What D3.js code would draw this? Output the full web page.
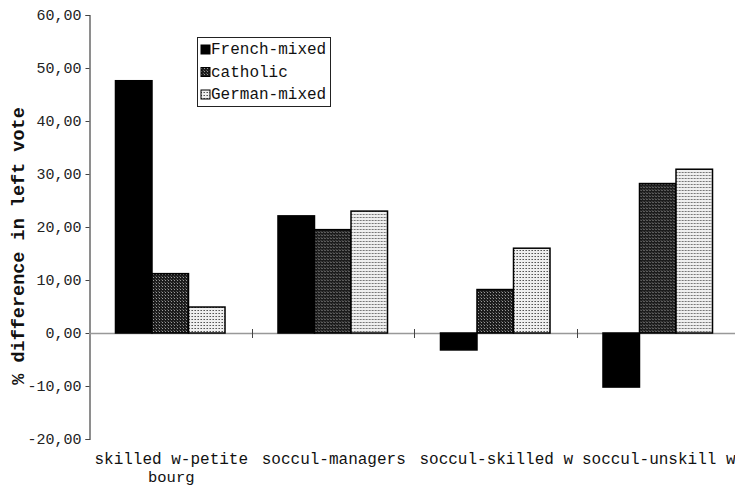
<!DOCTYPE html>
<html><head><meta charset="utf-8">
<script src="https://cdn.jsdelivr.net/npm/d3@7"></script>
<style>
body{margin:0;background:#fff;}
text{font-family:"Liberation Mono","Courier New",monospace;fill:#111;}
</style></head>
<body><svg id="c" width="735" height="486"></svg>
<script>
const categories = ["skilled w-petite bourg","soccul-managers","soccul-skilled w","soccul-unskill w"];
const categoryLines = [["skilled w-petite","bourg"],["soccul-managers"],["soccul-skilled w"],["soccul-unskill w"]];
const series = ["French-mixed","catholic","German-mixed"];
const frenchMixed = [47.6, 22.1, -3.2, -10.2];
const catholic = [11.2, 19.5, 8.2, 28.2];
const germanMixed = [4.9, 23.0, 16.0, 30.9];
const yTicks = [-20,-10,0,10,20,30,40,50,60];
const yTickLabels = ["-20,00","-10,00","0,00","10,00","20,00","30,00","40,00","50,00","60,00"];
const yTitle = "% difference in left vote";
const values = [frenchMixed, catholic, germanMixed];

const svg = d3.select("#c");
const defs = svg.append("defs");
// dark dither
const p1 = defs.append("pattern").attr("id","pCath").attr("patternUnits","userSpaceOnUse").attr("width",3).attr("height",3);
p1.append("rect").attr("width",3).attr("height",3).attr("fill","#1c1c1c");
p1.append("rect").attr("x",1).attr("y",1).attr("width",1).attr("height",1).attr("fill","#9a9a9a");
p1.append("rect").attr("x",0).attr("y",0).attr("width",1).attr("height",1).attr("fill","#555");
// light dither
const p2 = defs.append("pattern").attr("id","pGer").attr("patternUnits","userSpaceOnUse").attr("width",3).attr("height",3);
p2.append("rect").attr("width",3).attr("height",3).attr("fill","#efefef");
p2.append("rect").attr("x",1).attr("y",1).attr("width",1).attr("height",1).attr("fill","#555");
p2.append("rect").attr("x",0).attr("y",1).attr("width",1).attr("height",1).attr("fill","#999");
const fills = ["#000","url(#pCath)","url(#pGer)"];

const x = d3.scaleBand().domain(categories).range([89, 739]).padding(0);
const bw = x.bandwidth();
const xs = d3.scaleBand().domain(series).range([bw*0.163, bw*0.837]).padding(0);
const y = d3.scaleLinear().domain([-20,60]).range([439,15]);

// y axis
const yAxis = d3.axisLeft(y).tickValues(yTicks).tickSize(4).tickFormat((d,i)=>yTickLabels[i]);
const ga = svg.append("g").attr("transform","translate(89.5,0)").call(yAxis);
ga.select(".domain").attr("stroke","#444").attr("stroke-width",1.2);
ga.selectAll(".tick line").attr("stroke","#444");
ga.selectAll(".tick text").attr("font-size",15).attr("x",-8).attr("dy","0.32em").style("fill","#222");

// zero line with category ticks
svg.append("line").attr("x1",89).attr("x2",735).attr("y1",y(0)+0.5).attr("y2",y(0)+0.5).attr("stroke","#999").attr("stroke-width",1.5);
categories.slice(1).forEach(c=>{
  svg.append("line").attr("x1",Math.round(x(c))+0.5).attr("x2",Math.round(x(c))+0.5).attr("y1",y(0)-4).attr("y2",y(0)+5).attr("stroke","#444");
});

// bars
const groups = svg.selectAll("g.grp").data(categories).join("g").attr("class","grp").attr("transform",c=>`translate(${x(c)},0)`);
series.forEach((s,si)=>{
  groups.append("rect")
    .attr("x",(c,ci)=>xs(s))
    .attr("width",xs.bandwidth())
    .attr("y",(c,ci)=>y(Math.max(0,values[si][ci])))
    .attr("height",(c,ci)=>Math.abs(y(values[si][ci])-y(0)))
    .attr("fill",fills[si]).attr("stroke","#000").attr("stroke-width",1.5);
});

// x labels
categories.forEach((c,ci)=>{
  categoryLines[ci].forEach((ln,li)=>{
    svg.append("text").attr("text-anchor","middle").attr("font-size",li===0?16:15.5)
      .attr("x",x(c)+bw/2+1).attr("y",464+li*18).text(ln);
  });
});

// y title
svg.append("text").attr("transform","translate(24,246) rotate(-90)")
  .attr("text-anchor","middle").attr("font-size",18.5).attr("font-weight","bold").text(yTitle);

// legend
const lg = svg.append("g").attr("transform","translate(197,37)");
lg.append("rect").attr("x",0.5).attr("y",0.5).attr("width",133).attr("height",69).attr("fill","#fff").attr("stroke","#222").attr("stroke-width",1);
series.forEach((s,si)=>{
  lg.append("rect").attr("x",4).attr("y",8+si*22.5).attr("width",9).attr("height",9).attr("fill",fills[si]).attr("stroke","#000");
  lg.append("text").attr("x",14).attr("y",17+si*22.5).attr("font-size",16).text(s);
});
</script></body></html>
